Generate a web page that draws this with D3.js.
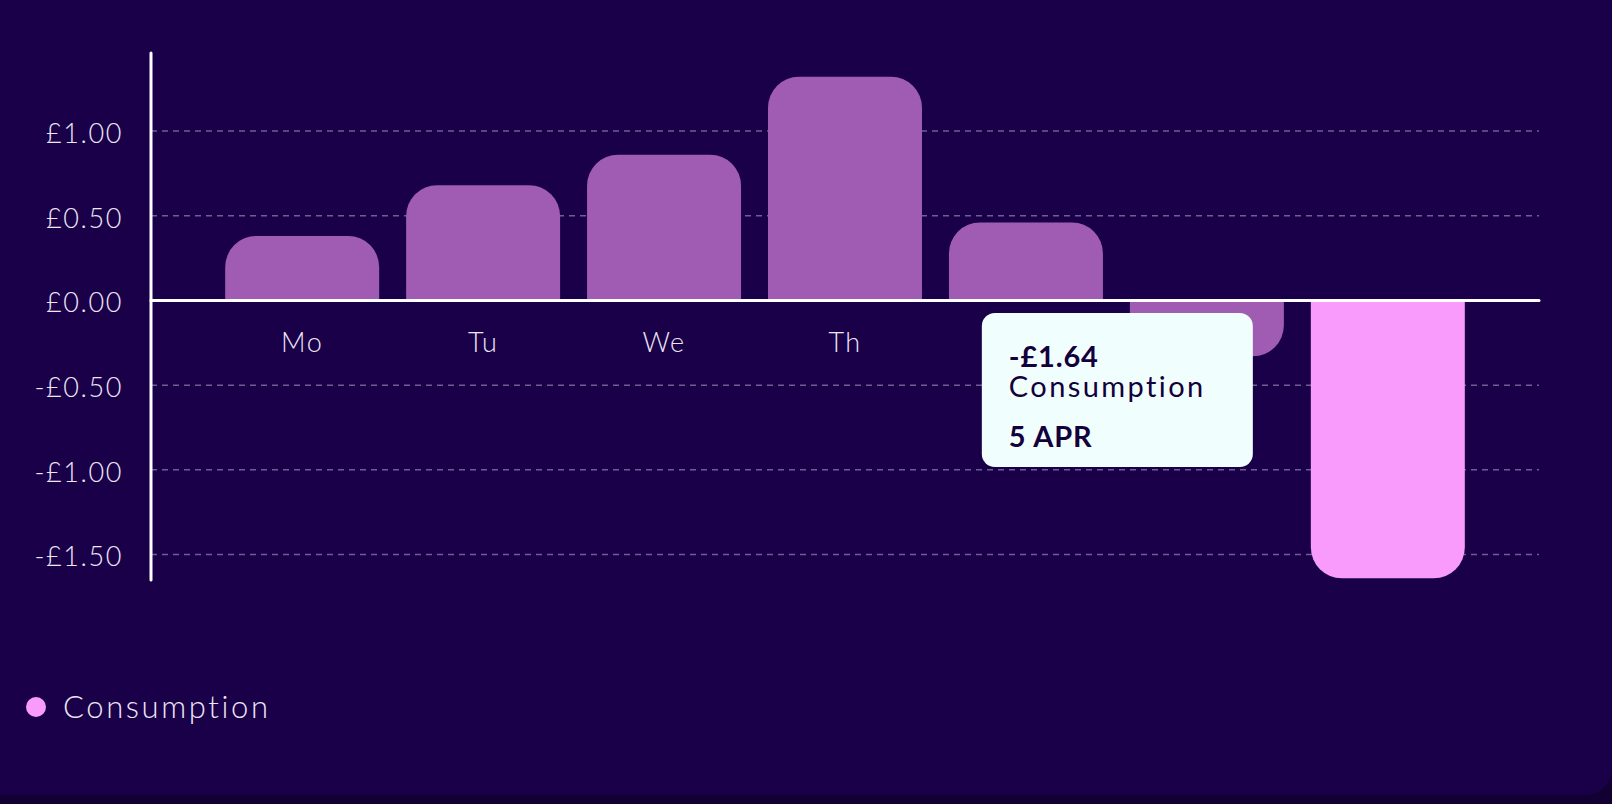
<!DOCTYPE html>
<html>
  <head>
    <meta charset="utf-8" />
    <style>
      html, body { margin: 0; padding: 0; background: #110031; }
      svg { display: block; }
    </style>
  </head>
  <body>
    <svg></svg>
    <script src="https://d3js.org/d3.v7.min.js"></script>
    <script>
      let width = 1612,
        height = 804;

      // data
      const days = ["Mo", "Tu", "We", "Th", "Fr", "Sa", "Su"];
      const consumption = [0.38, 0.68, 0.86, 1.32, 0.46, -0.33, -1.64];
      const dates = ["30 MAR", "31 MAR", "1 APR", "2 APR", "3 APR", "4 APR", "5 APR"];
      const yTicks = [1.0, 0.5, 0, -0.5, -1.0, -1.5];
      const selected = 6;
      const seriesName = "Consumption";

      const margin = { left: 151, right: 73, top: 53, bottom: 224 };
      const font = "Lato, 'Open Sans', sans-serif";

      let svg = d3.select("svg").attr("width", width).attr("height", height);

      // card background
      svg.append("rect")
        .attr("x", -30).attr("y", -30)
        .attr("width", width + 30).attr("height", 795 + 30)
        .attr("rx", 26)
        .attr("fill", "#1a0048");

      let x = d3.scaleBand()
        .domain(days)
        .range([margin.left, width - margin.right])
        .paddingInner(0.149)
        .paddingOuter(0.41);

      let y = d3.scaleLinear()
        .domain([-1.65, 1.46])
        .range([580, margin.top]);

      const fmt = (v) => (v < 0 ? "-£" : "£") + Math.abs(v).toFixed(2);

      // gridlines
      svg.append("g")
        .selectAll("line")
        .data(yTicks.filter((d) => d !== 0))
        .join("line")
        .attr("x1", margin.left)
        .attr("x2", width - margin.right)
        .attr("y1", (d) => y(d))
        .attr("y2", (d) => y(d))
        .attr("stroke", "#6f5e92")
        .attr("stroke-width", 1.5)
        .attr("stroke-dasharray", "6,5");

      // y axis labels
      let yAxis = d3.axisLeft(y).tickValues(yTicks).tickFormat(fmt).tickSize(0).tickPadding(28);
      let gy = svg.append("g").attr("transform", `translate(${margin.left},0)`).call(yAxis);
      gy.select(".domain").remove();
      gy.selectAll("text")
        .attr("fill", "#ece6f5")
        .attr("dy", "0.42em")
        .style("font-family", font)
        .style("font-weight", 300)
        .style("font-size", "27px")
        .style("letter-spacing", "1.6px");

      // x labels (drawn under the bars, like the original)
      let xAxis = d3.axisBottom(x).tickSize(0).tickPadding(32);
      let gx = svg.append("g").attr("transform", `translate(0,${y(0)})`).call(xAxis);
      gx.select(".domain").remove();
      gx.selectAll("text")
        .attr("fill", "#ece6f5")
        .style("font-family", font)
        .style("font-weight", 300)
        .style("font-size", "27px")
        .style("letter-spacing", "1.5px");

      // bars: rounded on the outer end only
      const r = 31;
      function barPath(d, i) {
        let x0 = x(days[i]), w = x.bandwidth();
        let y0 = y(0), y1 = y(d);
        let rr = Math.min(r, Math.abs(y1 - y0));
        if (d >= 0) {
          return `M${x0},${y0}V${y1 + rr}A${rr},${rr} 0 0 1 ${x0 + rr},${y1}H${x0 + w - rr}A${rr},${rr} 0 0 1 ${x0 + w},${y1 + rr}V${y0}Z`;
        } else {
          return `M${x0},${y0}V${y1 - rr}A${rr},${rr} 0 0 0 ${x0 + rr},${y1}H${x0 + w - rr}A${rr},${rr} 0 0 0 ${x0 + w},${y1 - rr}V${y0}Z`;
        }
      }
      svg.append("g")
        .selectAll("path")
        .data(consumption)
        .join("path")
        .attr("d", (d, i) => barPath(d, i))
        .attr("fill", (d, i) => (i === selected ? "#f99bfc" : "#a05bb3"));

      // axes lines
      svg.append("line")
        .attr("x1", margin.left).attr("x2", margin.left)
        .attr("y1", margin.top).attr("y2", 580)
        .attr("stroke", "#ffffff").attr("stroke-width", 3).attr("stroke-linecap", "round");
      svg.append("line")
        .attr("x1", margin.left).attr("x2", width - margin.right)
        .attr("y1", y(0)).attr("y2", y(0))
        .attr("stroke", "#ffffff").attr("stroke-width", 3).attr("stroke-linecap", "round");

      // tooltip for selected bar
      let tx = x(days[selected]) - 329, ty = 313;
      let tip = svg.append("g").attr("transform", `translate(${tx},${ty})`);
      tip.append("rect")
        .attr("width", 271).attr("height", 154).attr("rx", 13)
        .attr("fill", "#f0fffe");
      tip.append("text")
        .attr("x", 27).attr("y", 54)
        .attr("fill", "#14003a")
        .style("font-family", font).style("font-weight", 700).style("font-size", "29px")
        .style("letter-spacing", "0.8px")
        .text(fmt(consumption[selected]));
      tip.append("text")
        .attr("x", 27).attr("y", 84)
        .attr("fill", "#14003a")
        .style("font-family", font).style("font-weight", 400).style("font-size", "29px")
        .style("letter-spacing", "2.4px")
        .text(seriesName);
      tip.append("text")
        .attr("x", 27).attr("y", 134)
        .attr("fill", "#14003a")
        .style("font-family", font).style("font-weight", 700).style("font-size", "29px")
        .style("letter-spacing", "0.8px")
        .text(dates[selected]);

      // legend
      let legend = svg.append("g").attr("transform", "translate(36,707)");
      legend.append("circle").attr("r", 10).attr("fill", "#f99bfc");
      legend.append("text")
        .attr("x", 27).attr("y", 11)
        .attr("fill", "#ece6f5")
        .style("font-family", font).style("font-weight", 300).style("font-size", "31px")
        .style("letter-spacing", "2.6px")
        .text(seriesName);
    </script>
  </body>
</html>
